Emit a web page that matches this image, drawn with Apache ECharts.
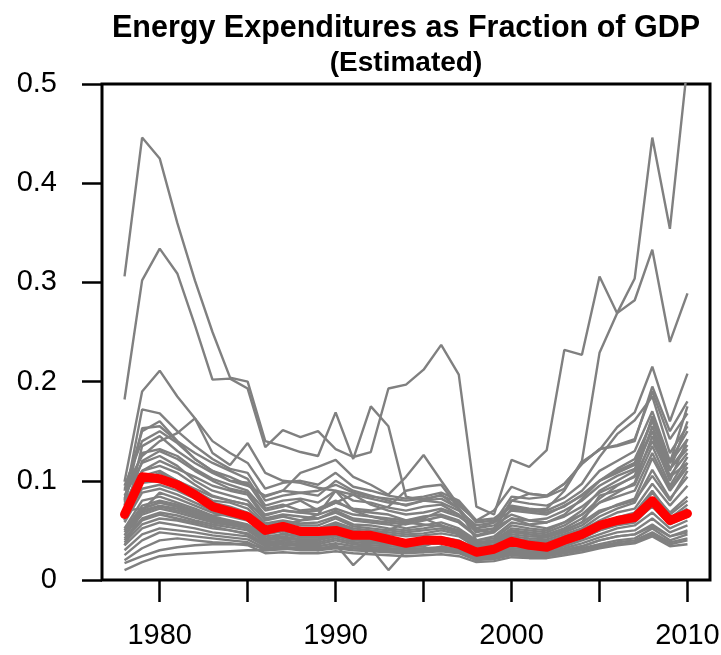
<!DOCTYPE html>
<html>
<head>
<meta charset="utf-8">
<script src="https://cdn.jsdelivr.net/npm/echarts@6.0.0/dist/echarts.min.js"></script>
<style>
    html, body { margin: 0; padding: 0; background: #fff; }
    #container_energy { width: 721px; height: 655px; }
</style>
</head>
<body>
<div id="container_energy"></div>
<script>
// Years on the x axis
var years = [1978,1979,1980,1981,1982,1983,1984,1985,1986,1987,1988,1989,1990,1991,1992,1993,1994,1995,1996,1997,1998,1999,2000,2001,2002,2003,2004,2005,2006,2007,2008,2009,2010];

var xTickValues = [1980, 1985, 1990, 1995, 2000, 2005, 2010];
var xLabelValues = [1980, 1990, 2000, 2010];

// Estimated average (red line)
var average = [0.066,0.104,0.102,0.096,0.086, 0.074,0.069,0.064,0.050,0.054, 0.049,0.049,0.050,0.045,0.045, 0.041,0.037,0.040,0.040,0.036, 0.028,0.031,0.039,0.035,0.033, 0.040,0.046,0.055,0.060,0.063, 0.080,0.060,0.067];

// Country lines (gray)
var lineA  = [0.306,0.446,0.425,0.360,0.302, 0.250,0.204,0.200,0.140,0.135, 0.129,0.125,0.169,0.122,0.175, 0.155,0.084,0.080,0.086,0.072, 0.050,0.048,0.062,0.056,0.058, 0.066,0.082,0.100,0.110,0.118, 0.162,0.112,0.132];
var lineB  = [0.182,0.302,0.334,0.309,0.257, 0.202,0.203,0.193,0.134,0.151, 0.144,0.150,0.132,0.124,0.129, 0.193,0.197,0.212,0.237,0.207, 0.074,0.066,0.121,0.114,0.131, 0.232,0.227,0.306,0.269,0.304, 0.446,0.354,0.520];
var lineR2 = [0.090,0.150,0.160,0.140,0.122, 0.110,0.100,0.098,0.072,0.076, 0.070,0.072,0.080,0.070,0.068, 0.066,0.060,0.062,0.070,0.064, 0.052,0.058,0.084,0.082,0.084, 0.092,0.120,0.229,0.269,0.282, 0.333,0.240,0.289];
var lineH1 = [0.099,0.190,0.211,0.185,0.163, 0.140,0.128,0.118,0.092,0.098, 0.100,0.096,0.108,0.094,0.090, 0.085,0.082,0.084,0.088,0.080, 0.060,0.062,0.075,0.072,0.070, 0.078,0.090,0.110,0.120,0.130, 0.170,0.120,0.150];
var lineH2 = [0.080,0.172,0.168,0.150,0.135, 0.122,0.112,0.108,0.080,0.085, 0.088,0.085,0.100,0.090,0.085, 0.080,0.075,0.080,0.078,0.070, 0.055,0.058,0.070,0.068,0.066, 0.075,0.085,0.100,0.112,0.122, 0.160,0.118,0.142];
var lineH3 = [0.092,0.125,0.140,0.148,0.163, 0.128,0.116,0.138,0.108,0.100, 0.098,0.093,0.090,0.086,0.082, 0.078,0.076,0.080,0.082,0.072, 0.052,0.055,0.066,0.060,0.062, 0.070,0.080,0.095,0.105,0.112, 0.150,0.105,0.128];
var lineH4 = [0.075,0.153,0.155,0.140,0.128, 0.118,0.110,0.102,0.075,0.080, 0.082,0.078,0.090,0.080,0.078, 0.073,0.070,0.074,0.076,0.066, 0.048,0.052,0.080,0.087,0.085, 0.097,0.117,0.132,0.136,0.142, 0.190,0.142,0.168];
var lineH5 = [0.060,0.135,0.145,0.130,0.118, 0.108,0.100,0.095,0.085,0.090, 0.108,0.114,0.121,0.104,0.096, 0.086,0.104,0.126,0.100,0.075, 0.060,0.070,0.094,0.087,0.085, 0.097,0.117,0.132,0.135,0.140, 0.195,0.150,0.180];
var lineH6 = [0.070,0.120,0.130,0.122,0.110, 0.100,0.092,0.088,0.065,0.070, 0.068,0.066,0.072,0.066,0.064, 0.062,0.060,0.064,0.066,0.060, 0.045,0.050,0.080,0.077,0.075, 0.083,0.097,0.124,0.147,0.161, 0.185,0.128,0.155];
var lineH7 = [0.065,0.110,0.120,0.112,0.104, 0.095,0.090,0.086,0.062,0.066, 0.064,0.062,0.070,0.062,0.060, 0.058,0.056,0.060,0.064,0.058, 0.044,0.048,0.072,0.070,0.072, 0.090,0.119,0.131,0.154,0.169, 0.215,0.160,0.208];
var lineM1 = [0.085,0.118,0.125,0.115,0.100, 0.090,0.085,0.080,0.060,0.064, 0.060,0.062,0.068,0.060,0.058, 0.056,0.052,0.055,0.058,0.052, 0.040,0.042,0.055,0.052,0.050, 0.058,0.070,0.090,0.100,0.110, 0.165,0.118,0.175];
var lineM2 = [0.078,0.110,0.115,0.108,0.096, 0.085,0.080,0.076,0.057,0.060, 0.057,0.058,0.064,0.056,0.055, 0.052,0.050,0.052,0.055,0.050, 0.038,0.040,0.052,0.050,0.048, 0.055,0.066,0.082,0.095,0.105, 0.155,0.110,0.160];
var lineM3 = [0.072,0.105,0.110,0.100,0.090, 0.080,0.078,0.072,0.055,0.058, 0.055,0.055,0.062,0.054,0.052, 0.050,0.048,0.050,0.052,0.048, 0.036,0.038,0.050,0.048,0.046, 0.052,0.062,0.078,0.088,0.098, 0.145,0.100,0.142];
var lineM4 = [0.068,0.098,0.100,0.095,0.088, 0.078,0.074,0.068,0.052,0.056, 0.052,0.052,0.058,0.052,0.050, 0.048,0.046,0.047,0.050,0.046, 0.034,0.036,0.048,0.046,0.044, 0.050,0.058,0.085,0.090,0.096, 0.135,0.095,0.124];
var lineM5 = [0.062,0.092,0.096,0.090,0.082, 0.074,0.070,0.066,0.050,0.053, 0.050,0.050,0.056,0.050,0.048, 0.046,0.044,0.045,0.047,0.044, 0.033,0.035,0.046,0.044,0.043, 0.048,0.055,0.068,0.076,0.082, 0.123,0.090,0.114];
var lineM6 = [0.058,0.088,0.092,0.086,0.078, 0.070,0.067,0.062,0.048,0.051, 0.048,0.048,0.054,0.048,0.046, 0.050,0.058,0.062,0.055,0.046, 0.032,0.034,0.044,0.042,0.041, 0.046,0.052,0.064,0.072,0.078, 0.111,0.082,0.104];
var lineM7 = [0.035,0.070,0.088,0.082,0.075, 0.068,0.064,0.060,0.046,0.049, 0.046,0.046,0.052,0.046,0.044, 0.042,0.040,0.041,0.043,0.040, 0.031,0.033,0.042,0.040,0.039, 0.044,0.050,0.060,0.068,0.072, 0.097,0.075,0.095];
var lineM8 = [0.052,0.080,0.084,0.078,0.072, 0.065,0.066,0.064,0.040,0.047, 0.044,0.044,0.050,0.044,0.042, 0.040,0.039,0.040,0.041,0.039, 0.030,0.032,0.040,0.038,0.037, 0.042,0.048,0.056,0.062,0.066, 0.088,0.068,0.084];
var lineM9 = [0.050,0.075,0.080,0.076,0.070, 0.064,0.060,0.056,0.046,0.055, 0.060,0.066,0.090,0.070,0.064, 0.060,0.058,0.056,0.054,0.048, 0.036,0.040,0.050,0.046,0.044, 0.050,0.058,0.070,0.075,0.080, 0.105,0.080,0.110];
var lineM10 = [0.048,0.072,0.078,0.074,0.068, 0.062,0.058,0.054,0.036,0.040, 0.046,0.052,0.056,0.050,0.044, 0.038,0.037,0.038,0.040,0.037, 0.028,0.030,0.038,0.036,0.035, 0.040,0.045,0.052,0.058,0.062, 0.080,0.062,0.076];
var lineM11 = [0.045,0.070,0.075,0.072,0.066, 0.060,0.056,0.052,0.040,0.043, 0.041,0.041,0.046,0.041,0.039, 0.037,0.036,0.037,0.039,0.036, 0.027,0.029,0.037,0.035,0.034, 0.038,0.043,0.050,0.055,0.058, 0.075,0.058,0.070];
var lineM12 = [0.095,0.140,0.150,0.138,0.122, 0.110,0.104,0.096,0.084,0.090, 0.088,0.090,0.096,0.088,0.084, 0.082,0.080,0.082,0.085,0.078, 0.058,0.060,0.074,0.070,0.068, 0.074,0.086,0.100,0.108,0.116, 0.150,0.112,0.136];
var lineM13 = [0.082,0.128,0.132,0.125,0.112, 0.102,0.096,0.090,0.070,0.074, 0.080,0.070,0.078,0.086,0.076, 0.070,0.066,0.068,0.072,0.066, 0.050,0.052,0.062,0.060,0.058, 0.064,0.074,0.088,0.096,0.104, 0.140,0.104,0.118];
var lineM14 = [0.060,0.100,0.108,0.100,0.092, 0.084,0.080,0.076,0.066,0.070, 0.068,0.070,0.078,0.072,0.070, 0.074,0.090,0.094,0.096,0.072, 0.040,0.044,0.058,0.055,0.052, 0.058,0.066,0.078,0.084,0.090, 0.128,0.092,0.118];
var lineL1 = [0.010,0.018,0.024,0.026,0.027, 0.028,0.029,0.030,0.030,0.031, 0.032,0.032,0.033,0.032,0.031, 0.030,0.029,0.029,0.030,0.028, 0.022,0.023,0.027,0.026,0.026, 0.028,0.031,0.034,0.036,0.038, 0.046,0.036,0.040];
var lineL2 = [0.017,0.024,0.030,0.033,0.035, 0.036,0.036,0.036,0.032,0.033, 0.032,0.032,0.034,0.032,0.031, 0.030,0.029,0.030,0.031,0.029, 0.021,0.022,0.026,0.025,0.025, 0.028,0.032,0.036,0.040,0.042, 0.052,0.040,0.046];
var lineL3 = [0.025,0.040,0.048,0.046,0.044, 0.042,0.040,0.038,0.030,0.032, 0.030,0.030,0.032,0.030,0.029, 0.028,0.027,0.028,0.029,0.027, 0.020,0.021,0.025,0.024,0.024, 0.027,0.030,0.034,0.038,0.040, 0.048,0.038,0.042];
var lineL4 = [0.030,0.046,0.052,0.050,0.048, 0.045,0.043,0.041,0.032,0.034, 0.036,0.040,0.048,0.038,0.030, 0.030,0.029,0.030,0.031,0.029, 0.022,0.024,0.028,0.027,0.026, 0.030,0.034,0.040,0.044,0.046, 0.056,0.044,0.050];
var lineL5 = [0.035,0.052,0.058,0.055,0.052, 0.048,0.046,0.044,0.034,0.036, 0.034,0.034,0.037,0.034,0.033, 0.032,0.031,0.032,0.033,0.031, 0.024,0.025,0.030,0.029,0.028, 0.032,0.037,0.043,0.048,0.050, 0.062,0.048,0.055];
var lineL6 = [0.038,0.056,0.062,0.060,0.056, 0.052,0.050,0.047,0.036,0.038, 0.036,0.036,0.040,0.036,0.035, 0.034,0.033,0.034,0.040,0.036, 0.020,0.026,0.032,0.031,0.030, 0.034,0.040,0.046,0.052,0.055, 0.068,0.052,0.060];
var lineL7 = [0.040,0.060,0.066,0.062,0.058, 0.054,0.050,0.046,0.035,0.038, 0.035,0.030,0.036,0.015,0.032, 0.010,0.030,0.028,0.034,0.030, 0.020,0.024,0.030,0.028,0.027, 0.030,0.034,0.040,0.044,0.046, 0.054,0.044,0.048];
var lineL8 = [0.042,0.062,0.068,0.065,0.060, 0.056,0.053,0.050,0.038,0.040, 0.038,0.038,0.042,0.038,0.037, 0.036,0.035,0.036,0.037,0.035, 0.026,0.027,0.034,0.033,0.032, 0.036,0.042,0.050,0.056,0.060, 0.074,0.056,0.064];
var lineL9 = [0.045,0.066,0.072,0.068,0.063, 0.058,0.055,0.052,0.040,0.042, 0.040,0.040,0.044,0.040,0.039, 0.038,0.036,0.037,0.038,0.036, 0.027,0.028,0.042,0.038,0.036, 0.040,0.050,0.052,0.058,0.062, 0.078,0.058,0.068];
var lineL10 = [0.050,0.068,0.074,0.070,0.065, 0.060,0.057,0.054,0.042,0.044, 0.041,0.041,0.045,0.041,0.040, 0.039,0.037,0.038,0.039,0.037, 0.028,0.029,0.036,0.035,0.034, 0.038,0.045,0.054,0.060,0.064, 0.082,0.062,0.072];
var lineL11 = [0.020,0.032,0.040,0.042,0.040, 0.038,0.037,0.035,0.027,0.028, 0.027,0.027,0.029,0.027,0.026, 0.025,0.024,0.025,0.026,0.024, 0.018,0.019,0.023,0.022,0.022, 0.025,0.028,0.032,0.035,0.037, 0.044,0.034,0.036];
var lineL12 = [0.070,0.072,0.078,0.074,0.068, 0.062,0.058,0.055,0.044,0.046, 0.043,0.043,0.047,0.043,0.042, 0.040,0.038,0.039,0.040,0.038, 0.029,0.030,0.037,0.036,0.035, 0.040,0.047,0.056,0.063,0.068, 0.090,0.066,0.080];

var grayLines = [lineA, lineB, lineR2, lineH1, lineH2, lineH3, lineH4, lineH5, lineH6, lineH7,
    lineM1, lineM2, lineM3, lineM4, lineM5, lineM6, lineM7, lineM8, lineM9, lineM10, lineM11, lineM12, lineM13, lineM14,
    lineL1, lineL2, lineL3, lineL4, lineL5, lineL6, lineL7, lineL8, lineL9, lineL10, lineL11, lineL12];

// pair each value with its year
function toPoints(values) {
    var res = [];
    for (var i = 0; i < years.length; i++) {
        res.push([years[i], values[i]]);
    }
    return res;
}

var series = [];
for (var i = 0; i < grayLines.length; i++) {
    series.push({
        type: 'line',
        data: toPoints(grayLines[i]),
        showSymbol: false,
        silent: true,
        lineStyle: { color: '#808080', width: 2.4 }
    });
}
series.push({
    name: 'Estimated',
    type: 'line',
    data: toPoints(average),
    showSymbol: false,
    silent: true,
    lineStyle: { color: '#ff0000', width: 9, cap: 'round', join: 'round' }
});

var energy_chart = echarts.init(document.getElementById('container_energy'));

var option_energy = {
    animation: false,
    title: [{
        text: 'Energy Expenditures as Fraction of GDP',
        left: 406,
        top: 13,
        textAlign: 'center',
        padding: 0,
        textStyle: { fontFamily: 'Liberation Sans', fontWeight: 'bold', fontSize: 30.5, color: '#000' }
    }, {
        text: '(Estimated)',
        left: 406,
        top: 49,
        textAlign: 'center',
        padding: 0,
        textStyle: { fontFamily: 'Liberation Sans', fontWeight: 'bold', fontSize: 28, color: '#000' }
    }],
    grid: {
        left: 102,
        right: 11,
        top: 84,
        bottom: 75,
        show: true,
        borderColor: '#000',
        borderWidth: 3,
        outerBoundsMode: 'none'
    },
    xAxis: {
        type: 'value',
        min: 1976.72,
        max: 2011.28,
        axisLine: { show: false },
        splitLine: { show: false },
        axisTick: {
            show: true,
            length: 22,
            customValues: xTickValues,
            lineStyle: { color: '#000', width: 2.5 }
        },
        axisLabel: {
            customValues: xLabelValues,
            formatter: function (v) { return String(v); },
            margin: 41,
            fontFamily: 'Liberation Sans',
            fontSize: 29,
            color: '#000'
        }
    },
    yAxis: {
        type: 'value',
        min: 0,
        max: 0.5,
        interval: 0.1,
        axisLine: { show: false },
        splitLine: { show: false },
        axisTick: {
            show: true,
            length: 20,
            lineStyle: { color: '#000', width: 2.5 }
        },
        axisLabel: {
            margin: 45,
            fontFamily: 'Liberation Sans',
            fontSize: 29,
            color: '#000'
        }
    },
    series: series
};

energy_chart.setOption(option_energy);
</script>
</body>
</html>
